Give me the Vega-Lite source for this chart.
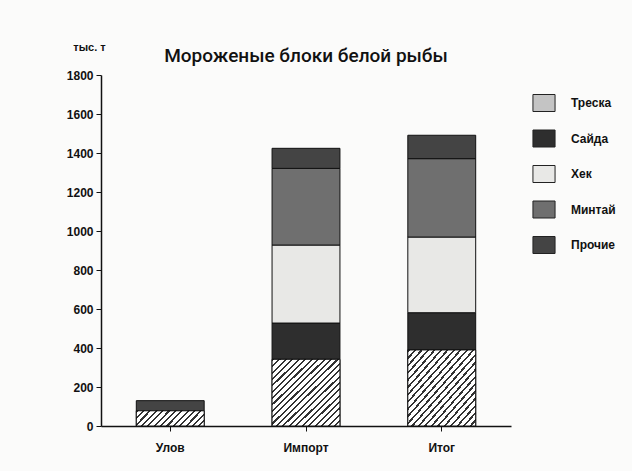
{
  "$schema": "https://vega.github.io/schema/vega-lite/v6.json",
  "autosize": {"type": "none"},
  "padding": {"left": 101, "top": 75, "right": 121, "bottom": 45},
  "width": 410,
  "height": 351,
  "background": "#fbfbfa",
  "title": {
    "text": "Мороженые блоки белой рыбы",
    "font": "Roboto",
    "fontSize": 19,
    "fontWeight": 500,
    "color": "#111",
    "anchor": "middle",
    "offset": -25
  },
  "config": {
    "view": {"stroke": null},
    "font": "Liberation Sans"
  },
  "data": {
    "values": [
      {"cat": "Улов", "species": "Треска", "o": 1, "value": 78},
      {"cat": "Улов", "species": "Прочие", "o": 5, "value": 52},
      {"cat": "Импорт", "species": "Треска", "o": 1, "value": 342},
      {"cat": "Импорт", "species": "Сайда", "o": 2, "value": 186},
      {"cat": "Импорт", "species": "Хек", "o": 3, "value": 400},
      {"cat": "Импорт", "species": "Минтай", "o": 4, "value": 393},
      {"cat": "Импорт", "species": "Прочие", "o": 5, "value": 103},
      {"cat": "Итог", "species": "Треска", "o": 1, "value": 390},
      {"cat": "Итог", "species": "Сайда", "o": 2, "value": 191},
      {"cat": "Итог", "species": "Хек", "o": 3, "value": 388},
      {"cat": "Итог", "species": "Минтай", "o": 4, "value": 402},
      {"cat": "Итог", "species": "Прочие", "o": 5, "value": 120}
    ]
  },
  "encoding": {
    "x": {
      "field": "cat",
      "type": "nominal",
      "sort": ["Улов", "Импорт", "Итог"],
      "scale": {"paddingInner": 0.5, "paddingOuter": 0.26},
      "axis": {
        "title": null,
        "labelAngle": 0,
        "labelFont": "Liberation Sans",
        "labelFontWeight": "bold",
        "labelFontSize": 12,
        "labelColor": "#111",
        "labelPadding": 11,
        "tickSize": 5,
        "tickColor": "#111",
        "domainColor": "#111",
        "domainWidth": 1.5
      }
    },
    "y": {
      "field": "value",
      "type": "quantitative",
      "stack": "zero",
      "scale": {"domain": [0, 1800], "nice": false},
      "axis": {
        "values": [0, 200, 400, 600, 800, 1000, 1200, 1400, 1600, 1800],
        "format": "d",
        "grid": false,
        "title": "тыс. т",
        "titleAngle": 0,
        "titleX": -12,
        "titleY": -28,
        "titleAlign": "center",
        "titleBaseline": "middle",
        "titleFont": "Liberation Sans",
        "titleFontSize": 11,
        "titleFontWeight": "bold",
        "titleColor": "#111",
        "labelFont": "Liberation Sans",
        "labelFontWeight": "bold",
        "labelFontSize": 12,
        "labelColor": "#111",
        "labelPadding": 3,
        "tickSize": 5,
        "tickColor": "#111",
        "domainColor": "#111",
        "domainWidth": 1.5
      }
    }
  },
  "layer": [
    {
      "mark": {"type": "bar", "stroke": "#111", "strokeWidth": 1},
      "encoding": {
        "color": {
          "field": "species",
          "type": "nominal",
          "scale": {
            "domain": ["Треска", "Сайда", "Хек", "Минтай", "Прочие"],
            "range": ["#c4c4c4", "#2e2e2e", "#e8e8e6", "#6f6f6f", "#444444"]
          },
          "legend": {
            "title": null,
            "orient": "none",
            "legendX": 434,
            "legendY": 19,
            "symbolType": "M-1.3,-1H1.3V1H-1.3Z",
            "symbolSize": 289,
            "symbolStrokeColor": "#222",
            "symbolStrokeWidth": 1,
            "symbolOpacity": 1,
            "rowPadding": 13.5,
            "labelOffset": 18,
            "labelFont": "Liberation Sans",
            "labelFontWeight": "bold",
            "labelFontSize": 12,
            "labelColor": "#111",
            "encode": {
              "symbols": {
                "update": {
                  "stroke": {"value": "#222"},
                  "strokeWidth": {"value": 1},
                  "opacity": {"value": 1},
                  "fill": [
                    {
                      "test": "datum.label === 'Треска'",
                      "value": {
                        "gradient": "linear", "x1": 0, "y1": 0, "x2": 1, "y2": 1,
                        "stops": [
                          {"offset": 0, "color": "#333"}, {"offset": 0.054, "color": "#333"}, {"offset": 0.054, "color": "#fff"}, {"offset": 0.1667, "color": "#fff"},
                          {"offset": 0.1667, "color": "#333"}, {"offset": 0.2207, "color": "#333"}, {"offset": 0.2207, "color": "#fff"}, {"offset": 0.3333, "color": "#fff"},
                          {"offset": 0.3333, "color": "#333"}, {"offset": 0.3873, "color": "#333"}, {"offset": 0.3873, "color": "#fff"}, {"offset": 0.5, "color": "#fff"},
                          {"offset": 0.5, "color": "#333"}, {"offset": 0.554, "color": "#333"}, {"offset": 0.554, "color": "#fff"}, {"offset": 0.6667, "color": "#fff"},
                          {"offset": 0.6667, "color": "#333"}, {"offset": 0.7207, "color": "#333"}, {"offset": 0.7207, "color": "#fff"}, {"offset": 0.8333, "color": "#fff"},
                          {"offset": 0.8333, "color": "#333"}, {"offset": 0.8873, "color": "#333"}, {"offset": 0.8873, "color": "#fff"}, {"offset": 1, "color": "#fff"}
                        ]
                      }
                    },
                    {"scale": "color", "field": "value"}
                  ]
                }
              }
            }
          }
        },
        "order": {"field": "o", "type": "quantitative"}
      }
    },
    {
      "transform": [{"filter": "datum.species === 'Треска' && datum.cat !== 'Улов'"}],
      "mark": {
        "type": "bar",
        "stroke": "#111",
        "strokeWidth": 1,
        "fill": {
          "gradient": "linear", "x1": 0, "y1": 0, "x2": 1, "y2": 1,
          "stops": [
            {"offset": 0, "color": "#333"}, {"offset": 0.016, "color": "#333"}, {"offset": 0.016, "color": "#fff"}, {"offset": 0.0476, "color": "#fff"},
            {"offset": 0.0476, "color": "#333"}, {"offset": 0.0636, "color": "#333"}, {"offset": 0.0636, "color": "#fff"}, {"offset": 0.0952, "color": "#fff"},
            {"offset": 0.0952, "color": "#333"}, {"offset": 0.1112, "color": "#333"}, {"offset": 0.1112, "color": "#fff"}, {"offset": 0.1429, "color": "#fff"},
            {"offset": 0.1429, "color": "#333"}, {"offset": 0.1589, "color": "#333"}, {"offset": 0.1589, "color": "#fff"}, {"offset": 0.1905, "color": "#fff"},
            {"offset": 0.1905, "color": "#333"}, {"offset": 0.2065, "color": "#333"}, {"offset": 0.2065, "color": "#fff"}, {"offset": 0.2381, "color": "#fff"},
            {"offset": 0.2381, "color": "#333"}, {"offset": 0.2541, "color": "#333"}, {"offset": 0.2541, "color": "#fff"}, {"offset": 0.2857, "color": "#fff"},
            {"offset": 0.2857, "color": "#333"}, {"offset": 0.3017, "color": "#333"}, {"offset": 0.3017, "color": "#fff"}, {"offset": 0.3333, "color": "#fff"},
            {"offset": 0.3333, "color": "#333"}, {"offset": 0.3493, "color": "#333"}, {"offset": 0.3493, "color": "#fff"}, {"offset": 0.381, "color": "#fff"},
            {"offset": 0.381, "color": "#333"}, {"offset": 0.397, "color": "#333"}, {"offset": 0.397, "color": "#fff"}, {"offset": 0.4286, "color": "#fff"},
            {"offset": 0.4286, "color": "#333"}, {"offset": 0.4446, "color": "#333"}, {"offset": 0.4446, "color": "#fff"}, {"offset": 0.4762, "color": "#fff"},
            {"offset": 0.4762, "color": "#333"}, {"offset": 0.4922, "color": "#333"}, {"offset": 0.4922, "color": "#fff"}, {"offset": 0.5238, "color": "#fff"},
            {"offset": 0.5238, "color": "#333"}, {"offset": 0.5398, "color": "#333"}, {"offset": 0.5398, "color": "#fff"}, {"offset": 0.5714, "color": "#fff"},
            {"offset": 0.5714, "color": "#333"}, {"offset": 0.5874, "color": "#333"}, {"offset": 0.5874, "color": "#fff"}, {"offset": 0.619, "color": "#fff"},
            {"offset": 0.619, "color": "#333"}, {"offset": 0.635, "color": "#333"}, {"offset": 0.635, "color": "#fff"}, {"offset": 0.6667, "color": "#fff"},
            {"offset": 0.6667, "color": "#333"}, {"offset": 0.6827, "color": "#333"}, {"offset": 0.6827, "color": "#fff"}, {"offset": 0.7143, "color": "#fff"},
            {"offset": 0.7143, "color": "#333"}, {"offset": 0.7303, "color": "#333"}, {"offset": 0.7303, "color": "#fff"}, {"offset": 0.7619, "color": "#fff"},
            {"offset": 0.7619, "color": "#333"}, {"offset": 0.7779, "color": "#333"}, {"offset": 0.7779, "color": "#fff"}, {"offset": 0.8095, "color": "#fff"},
            {"offset": 0.8095, "color": "#333"}, {"offset": 0.8255, "color": "#333"}, {"offset": 0.8255, "color": "#fff"}, {"offset": 0.8571, "color": "#fff"},
            {"offset": 0.8571, "color": "#333"}, {"offset": 0.8731, "color": "#333"}, {"offset": 0.8731, "color": "#fff"}, {"offset": 0.9048, "color": "#fff"},
            {"offset": 0.9048, "color": "#333"}, {"offset": 0.9208, "color": "#333"}, {"offset": 0.9208, "color": "#fff"}, {"offset": 0.9524, "color": "#fff"},
            {"offset": 0.9524, "color": "#333"}, {"offset": 0.9684, "color": "#333"}, {"offset": 0.9684, "color": "#fff"}, {"offset": 1, "color": "#fff"}
          ]
        }
      }
    },
    {
      "transform": [{"filter": "datum.species === 'Треска' && datum.cat === 'Улов'"}],
      "mark": {
        "type": "bar",
        "stroke": "#111",
        "strokeWidth": 1,
        "fill": {
          "gradient": "linear", "x1": 0, "y1": 0, "x2": 1.164, "y2": 0.256,
          "stops": [
            {"offset": 0, "color": "#333"}, {"offset": 0.0255, "color": "#333"}, {"offset": 0.0255, "color": "#fff"}, {"offset": 0.0769, "color": "#fff"},
            {"offset": 0.0769, "color": "#333"}, {"offset": 0.1024, "color": "#333"}, {"offset": 0.1024, "color": "#fff"}, {"offset": 0.1538, "color": "#fff"},
            {"offset": 0.1538, "color": "#333"}, {"offset": 0.1793, "color": "#333"}, {"offset": 0.1793, "color": "#fff"}, {"offset": 0.2308, "color": "#fff"},
            {"offset": 0.2308, "color": "#333"}, {"offset": 0.2563, "color": "#333"}, {"offset": 0.2563, "color": "#fff"}, {"offset": 0.3077, "color": "#fff"},
            {"offset": 0.3077, "color": "#333"}, {"offset": 0.3332, "color": "#333"}, {"offset": 0.3332, "color": "#fff"}, {"offset": 0.3846, "color": "#fff"},
            {"offset": 0.3846, "color": "#333"}, {"offset": 0.4101, "color": "#333"}, {"offset": 0.4101, "color": "#fff"}, {"offset": 0.4615, "color": "#fff"},
            {"offset": 0.4615, "color": "#333"}, {"offset": 0.487, "color": "#333"}, {"offset": 0.487, "color": "#fff"}, {"offset": 0.5385, "color": "#fff"},
            {"offset": 0.5385, "color": "#333"}, {"offset": 0.564, "color": "#333"}, {"offset": 0.564, "color": "#fff"}, {"offset": 0.6154, "color": "#fff"},
            {"offset": 0.6154, "color": "#333"}, {"offset": 0.6409, "color": "#333"}, {"offset": 0.6409, "color": "#fff"}, {"offset": 0.6923, "color": "#fff"},
            {"offset": 0.6923, "color": "#333"}, {"offset": 0.7178, "color": "#333"}, {"offset": 0.7178, "color": "#fff"}, {"offset": 0.7692, "color": "#fff"},
            {"offset": 0.7692, "color": "#333"}, {"offset": 0.7947, "color": "#333"}, {"offset": 0.7947, "color": "#fff"}, {"offset": 0.8462, "color": "#fff"},
            {"offset": 0.8462, "color": "#333"}, {"offset": 0.8717, "color": "#333"}, {"offset": 0.8717, "color": "#fff"}, {"offset": 0.9231, "color": "#fff"},
            {"offset": 0.9231, "color": "#333"}, {"offset": 0.9486, "color": "#333"}, {"offset": 0.9486, "color": "#fff"}, {"offset": 1, "color": "#fff"}
          ]
        }
      }
    }
  ]
}
